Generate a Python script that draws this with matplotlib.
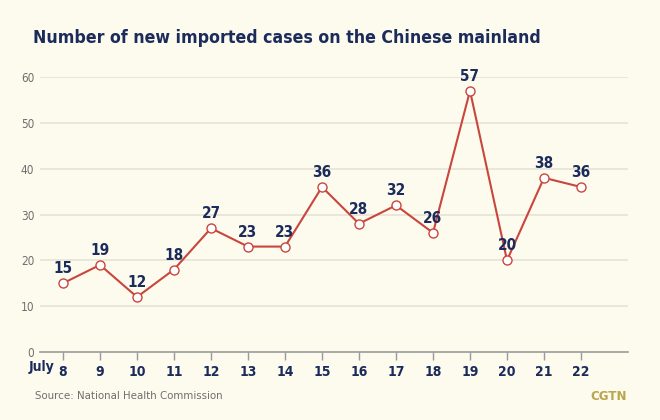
import matplotlib
matplotlib.use("Agg")
import matplotlib.pyplot as plt
from matplotlib import font_manager

days = [8, 9, 10, 11, 12, 13, 14, 15, 16, 17, 18, 19, 20, 21, 22]
cases = [15, 19, 12, 18, 27, 23, 23, 36, 28, 32, 26, 57, 20, 38, 36]
yticks = [0, 10, 20, 30, 40, 50, 60]

condensed = [f for f in font_manager.fontManager.ttflist
             if 'ondensed' in f.fname or 'arrow' in f.fname]
fam = condensed[0].name if condensed else 'Roboto'
plt.rcParams['font.family'] = [fam, 'DejaVu Sans']
plt.rcParams['font.stretch'] = 'condensed'

bg = '#FDFAEE'
navy = '#1B2B5B'
red = '#C9463D'
gray = '#6E6E6E'

fig = plt.figure(figsize=(6.6, 4.2), dpi=100, facecolor=bg)
ax = fig.add_axes([40/660, 1-352/420, (628-40)/660, (352-77)/420])
ax.set_facecolor(bg)
ax.set_xlim(8 - 23/37, 22 + 47/37)
ax.set_ylim(0, 60)

for y in yticks[1:]:
    ax.axhline(y, color='#E6E2D6', lw=1.2, zorder=0)

ax.plot(days, cases, color=red, lw=1.5, zorder=2, clip_on=False)
ax.plot(days, cases, 'o', ms=6.5, mfc='white', mec=red, mew=1.0, zorder=3, clip_on=False)

for d, c in zip(days, cases):
    ax.annotate(str(c), (d, c), xytext=(0, 5), textcoords='offset points',
                ha='center', va='bottom', fontsize=11, fontweight='bold', color=navy)

for s in ['top', 'right', 'left']:
    ax.spines[s].set_visible(False)
ax.spines['bottom'].set_color('#9A9A9A')
ax.spines['bottom'].set_linewidth(1.2)

ax.set_xticks(days)
ax.set_xticklabels([str(d) for d in days], fontsize=10, fontweight='bold', color=navy)
ax.tick_params(axis='x', length=6, width=1, color='#9A9A9A', pad=3)
ax.set_yticks(yticks)
ax.set_yticklabels([str(y) for y in yticks], fontsize=8.5, color=gray)
ax.tick_params(axis='y', length=0, pad=4)

fig.text(29/660, 1-367/420, 'July', fontsize=10, fontweight='bold', color=navy, ha='left', va='center')
fig.text(33/660, 1-38/420, 'Number of new imported cases on the Chinese mainland',
         fontsize=12.7, fontweight='bold', color=navy, ha='left', va='center')
fig.text(35/660, 1-396/420, 'Source: National Health Commission', fontsize=8.2, color=gray,
         ha='left', va='center')
fig.text(627/660, 1-396/420, 'CGTN', fontsize=9.5, fontweight='bold', color='#B9A54C',
         ha='right', va='center')

fig.savefig('out.png', dpi=100, facecolor=bg)
